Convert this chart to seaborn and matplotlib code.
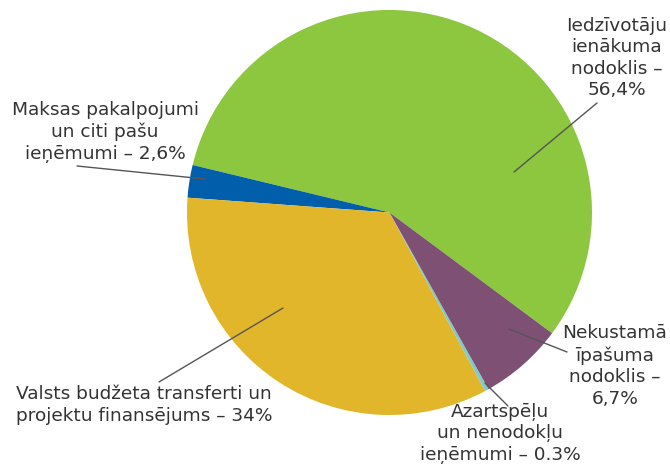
import matplotlib
matplotlib.use("Agg")
import matplotlib.pyplot as plt
import seaborn as sns

# Dati: pašvaldību ieņēmumu struktūra (%)
labels = [
    "Iedzīvotāju\nienākuma\nnodoklis –\n56,4%",
    "Maksas pakalpojumi\nun citi pašu\nieņēmumi – 2,6%",
    "Valsts budžeta transferti un\nprojektu finansējums – 34%",
    "Azartspēļu\nun nenodokļu\nieņēmumi – 0.3%",
    "Nekustamā\nīpašuma\nnodoklis –\n6,7%",
]
shares = [56.4, 2.6, 34.0, 0.3, 6.7]
colors = ["#8dc63f", "#005eab", "#e2b62b", "#7ecbc9", "#7e5074"]

sns.set_theme(style="white")
plt.rcParams["font.family"] = ["DejaVu Sans"]

fig = plt.figure(figsize=(6.7, 4.65), dpi=100)
ax = fig.add_axes([0, 0, 1, 1])

# y ass apgriezta, tāpēc counterclock=False dod vizuāli pretēji pulksteņa rādītājam
ax.pie(shares, colors=colors, center=(389.5, 212.5), radius=202.5,
       startangle=36.6, counterclock=False, frame=True,
       wedgeprops=dict(linewidth=0))
ax.set_xlim(0, 670)
ax.set_ylim(465, 0)
ax.axis("off")

# teksta pozīcijas un līniju galapunkti (pikseļos)
text_pos = [(617, 58), (105, 132), (144, 405), (500, 433), (615, 366)]
leaders = [
    ((514, 172), (597, 103)),
    ((205, 179), (77, 166)),
    ((283, 308), (159, 382)),
    ((485, 383), (508, 406)),
    ((509, 329), (567, 352)),
]

for lab, (tx, ty), (p0, p1) in zip(labels, text_pos, leaders):
    ax.plot([p0[0], p1[0]], [p0[1], p1[1]], color="#555555", lw=1)
    ax.text(tx, ty, lab, ha="center", va="center", fontsize=13.3,
            color="#333333", linespacing=1.25)

fig.savefig("out.png", dpi=100)
